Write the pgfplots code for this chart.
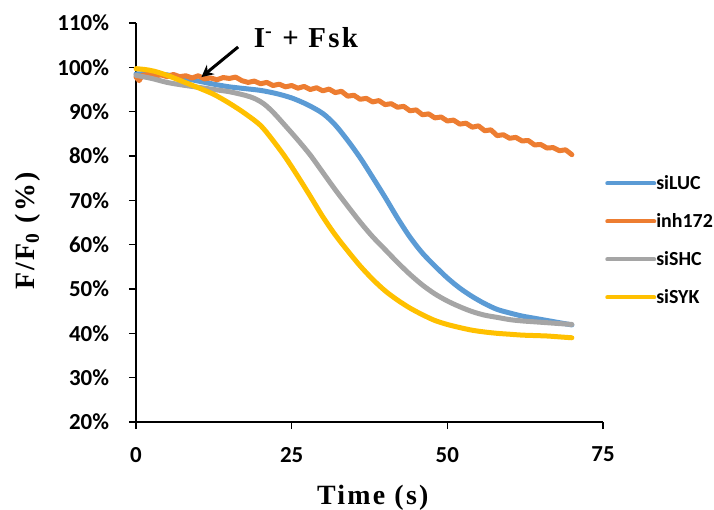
\documentclass[border=0pt]{standalone}
\usepackage{fontspec}
\usepackage{pgfplots}
\pgfplotsset{compat=1.18}
\usetikzlibrary{arrows.meta}
\newfontfamily\carlito{Carlito}
\newfontfamily\tnr[LetterSpace=8]{Liberation Serif}
\definecolor{xblue}{HTML}{5B9BD5}
\definecolor{xorange}{HTML}{ED7D31}
\definecolor{xgray}{HTML}{A5A5A5}
\definecolor{xgold}{HTML}{FFC000}

\begin{document}
\begin{tikzpicture}
\begin{axis}[
  scale only axis,
  width=233.5bp, height=199.5bp,
  xmin=0, xmax=75, ymin=20, ymax=110,
  xtick={0,25,50,75},
  ytick={20,30,40,50,60,70,80,90,100,110},
  axis x line=bottom, axis y line=left,
  axis line style={-, line width=0.7bp, black},
  tick style={line width=0.7bp, black},
  tick align=outside,
  major tick length=3.5bp,
  xticklabel={\pgfmathparse{int(\tick)}\pgfmathresult},
  yticklabel={\pgfmathparse{int(\tick)}\pgfmathresult\%},
  ticklabel style={font=\carlito\bfseries\fontsize{11.5}{13}\selectfont},
  xticklabel style={yshift=-5.5bp},
  yticklabel style={xshift=-6.5bp},
  xlabel={Time (s)},
  ylabel={F/F\textsubscript{0} (\%)},
  label style={font=\tnr\bfseries\fontsize{14}{16}\selectfont},
  xlabel style={at={(axis description cs:0.507,0)}, anchor=center, yshift=-38bp},
  ylabel style={at={(axis description cs:-0.2313,0.479)}, anchor=center},
  clip=false,
  legend cell align=left,
  legend style={at={(rel axis cs:1.004,0.6165)}, anchor=north west,
    draw=none, fill=none, inner sep=0pt, row sep=12bp,
    font=\carlito\bfseries\fontsize{10}{12}\selectfont,
    nodes={inner sep=0pt, text height=6.5bp, text depth=0.5bp, anchor=west}},
  legend image code/.code={\draw[#1, line width=2bp] (0bp,0bp) -- (23.5bp,0bp);},
  every axis plot/.append style={line width=2.5bp, line cap=round, line join=round},
]
\addplot[xblue, smooth, tension=0.5] coordinates {
(0,98.5) (2.5,98.6) (5,98.3) (7.5,97.6) (10,96.9) (12.5,96.2) (15,95.6)
(17.5,95.2) (20,94.8) (22.5,94.1) (25,93.1) (27.5,91.6) (30,89.6) (32,87.0)
(34,83.5) (36,79.6) (38,75.2) (40,70.7) (42,66) (44,61.7) (46,58.1) (48,55.2)
(50,52.5) (52,50.2) (54,48.3) (56,46.7) (58,45.4) (60,44.6) (62,43.9)
(64,43.4) (66,42.9) (68,42.4) (70,41.9)
};
\addlegendentry{siLUC}
\addplot[xorange] coordinates {
(0,97.8) (0.5,97.0) (1,98.2) (2,98.4) (3,98.0) (4,98.3) (5,97.9) (6,98.4)
(7,97.9) (8,98.1) (9,97.6) (10,98.1) (11,97.4) (12,97.6) (13,97.2) (14,97.7)
(15,97.5) (16,97.8) (17,97.0) (18,96.6) (19,96.9) (20,96.3) (21,96.6)
(22,95.9) (23,96.2) (24,95.6) (25,95.9) (26,95.3) (27,95.7) (28,95.0)
(29,95.4) (30,94.7) (31,95.1) (32,94.3) (33,94.6) (34,93.5) (35,93.7)
(36,92.8) (37,93.0) (38,92.2) (39,92.5) (40,91.6) (41,91.8) (42,91.0)
(43,91.2) (44,90.2) (45,90.4) (46,89.3) (47,89.5) (48,88.6) (49,88.8)
(50,87.9) (51,88.1) (52,87.2) (53,87.4) (54,86.5) (55,86.8) (56,85.7)
(57,85.9) (58,84.6) (59,84.8) (60,84.0) (61,84.2) (62,83.4) (63,83.5)
(64,82.5) (65,82.6) (66,81.8) (67,81.9) (68,81.2) (69,81.4) (70,80.3)
};
\addlegendentry{inh172}
\addplot[xgray, smooth, tension=0.5] coordinates {
(0,98.2) (2.5,97.5) (5,96.6) (7.5,96) (10,95.5) (12.5,95) (15,94.5)
(17.5,93.7) (19,93.0) (20.5,91.8) (22,89.9) (24,86.8) (26,83.6) (28,80.2) (30,76.3)
(32,72.4) (34,68.7) (36,65.1) (38,61.8) (40,58.9) (42,56) (44,53.3)
(46,50.9) (48,48.9) (50,47.3) (52,46) (54,44.9) (56,44.1) (58,43.6)
(60,43.1) (62,42.8) (64,42.6) (66,42.4) (68,42.2) (70,42)
};
\addlegendentry{siSHC}
\addplot[xgold, smooth, tension=0.5] coordinates {
(0,99.7) (1.5,99.5) (3,99.1) (5,98.2) (7.5,96.8) (10,95.4) (12.5,93.9)
(15,91.9) (17.5,89.6) (20,86.9) (22,83.5) (24,79.7) (26,75.4) (28,70.9)
(30,66.3) (32,62.2) (34,58.6) (36,55.2) (38,52.2) (40,49.6) (42,47.5)
(44,45.7) (46,44.2) (48,42.9) (50,42) (52,41.3) (54,40.7) (56,40.3)
(58,40) (60,39.8) (62,39.6) (64,39.5) (66,39.4) (68,39.2) (70,39)
};
\addlegendentry{siSYK}
\node[font=\tnr\bfseries\fontsize{14.5}{16}\selectfont] at (axis cs:27.3,106.7)
  {I\textsuperscript{-} + Fsk};
\draw[-{Stealth[length=6bp,width=6bp]}, line width=1.5bp]
  (axis cs:16.4,104.6) -- (axis cs:10.5,97.8);
\end{axis}
\pgfresetboundingbox
\path[use as bounding box] (-68bp,-44bp) rectangle (289bp,211bp);
\end{tikzpicture}
\end{document}
